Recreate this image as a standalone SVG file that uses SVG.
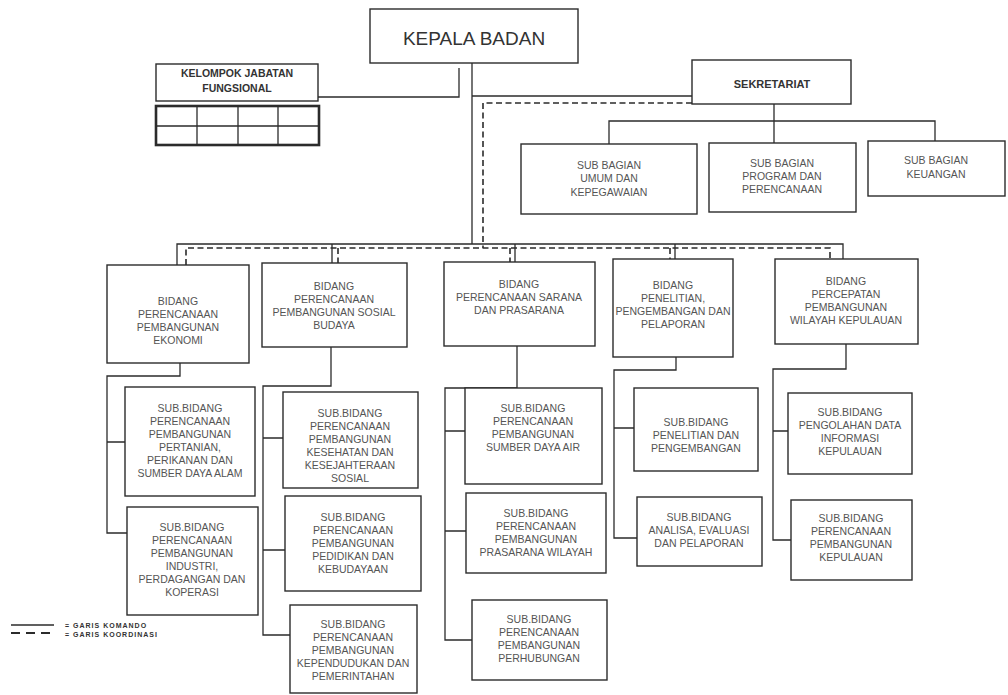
<svg xmlns="http://www.w3.org/2000/svg" width="1008" height="695" viewBox="0 0 1008 695">
<style>
.box{fill:#fff;stroke:#2b2b2b;stroke-width:1.4}
.ln{fill:none;stroke:#2b2b2b;stroke-width:1.3}
.dash{fill:none;stroke:#2b2b2b;stroke-width:1.6;stroke-dasharray:6 3.5}
.t{font-family:"Liberation Sans",Arial,sans-serif;font-size:10.5px;fill:#555;text-anchor:middle}
.tb{font-family:"Liberation Sans",Arial,sans-serif;font-size:10.5px;fill:#333;font-weight:bold;text-anchor:middle}
.big{font-family:"Liberation Sans",Arial,sans-serif;font-size:19px;fill:#333;text-anchor:middle}
.lg{font-family:"Liberation Sans",Arial,sans-serif;font-size:7px;fill:#333;font-weight:bold;letter-spacing:1px}
</style>
<rect width="1008" height="695" fill="#fff"/>
<g id="connectors">
<path class="ln" d="M472,63 V244 M177,265 V244 H843 V259 M332,244 V263 M515,244 V262 M675,244 V259"/>
<path class="ln" d="M318,97 H459 V68"/>
<path class="ln" d="M472,96 H692"/>
<path class="ln" d="M774,104 V121 M609,144 V121 H935 V141 M774,121 V143"/>
<path class="dash" d="M692,103 H483 V248"/>
<path class="dash" d="M186,265 V248 H830 V259 M338,248 V263 M510,248 V262 M670,248 V259"/>
<path class="ln" d="M180,363 V376 H107 V533 H127 M107,442 H125"/>
<path class="ln" d="M331,347 V386 H263 V635 H290 M263,438 H283 M263,550 H285"/>
<path class="ln" d="M517,346 V388 H445 V640 H472 M445,431 H465 M445,531 H466"/>
<path class="ln" d="M676,357 V370 H614 V538 H637 M614,428 H634"/>
<path class="ln" d="M846,344 V369 H773 V540 H791 M773,431 H788"/>
</g>
<g id="kepala"><rect class="box" x="370" y="9" width="208" height="54"/><text class="big" x="474" y="45">KEPALA BADAN</text></g>
<g id="kelompok"><rect class="box" x="156" y="64" width="162" height="37"/><text class="tb" x="237" y="77">KELOMPOK JABATAN</text><text class="tb" x="237" y="92">FUNGSIONAL</text></g>
<g id="tabel"><rect x="156" y="106" width="163" height="39" fill="#fff" stroke="#2b2b2b" stroke-width="2.6"/><path class="ln" d="M197,106 V145 M238,106 V145 M278,106 V145 M156,126 H319"/></g>
<g id="sekretariat"><rect class="box" x="692" y="60" width="159" height="44"/><text class="tb" x="772" y="88" style="font-size:11px">SEKRETARIAT</text></g>
<g id="subbag-umum"><rect class="box" x="521" y="144" width="176" height="70"/><text class="t" x="609" y="169">SUB BAGIAN</text><text class="t" x="609" y="182">UMUM DAN</text><text class="t" x="609" y="196">KEPEGAWAIAN</text></g>
<g id="subbag-program"><rect class="box" x="709" y="143" width="147" height="69"/><text class="t" x="782" y="167">SUB BAGIAN</text><text class="t" x="782" y="180">PROGRAM DAN</text><text class="t" x="782" y="193">PERENCANAAN</text></g>
<g id="subbag-keuangan"><rect class="box" x="868" y="141" width="137" height="55"/><text class="t" x="936" y="164">SUB BAGIAN</text><text class="t" x="936" y="178">KEUANGAN</text></g>
<g id="bid-ekonomi"><rect class="box" x="107" y="265" width="142" height="98"/><text class="t" x="178" y="305">BIDANG</text><text class="t" x="178" y="318">PERENCANAAN</text><text class="t" x="178" y="331">PEMBANGUNAN</text><text class="t" x="178" y="344">EKONOMI</text></g>
<g id="bid-sosbud"><rect class="box" x="262" y="263" width="145" height="84"/><text class="t" x="334" y="290">BIDANG</text><text class="t" x="334" y="303">PERENCANAAN</text><text class="t" x="334" y="316">PEMBANGUNAN SOSIAL</text><text class="t" x="334" y="329">BUDAYA</text></g>
<g id="bid-sarana"><rect class="box" x="444" y="262" width="151" height="84"/><text class="t" x="519" y="288">BIDANG</text><text class="t" x="519" y="301">PERENCANAAN SARANA</text><text class="t" x="519" y="314">DAN PRASARANA</text></g>
<g id="bid-penelitian"><rect class="box" x="613" y="259" width="120" height="98"/><text class="t" x="673" y="289">BIDANG</text><text class="t" x="673" y="302">PENELITIAN,</text><text class="t" x="673" y="315">PENGEMBANGAN DAN</text><text class="t" x="673" y="328">PELAPORAN</text></g>
<g id="bid-percepatan"><rect class="box" x="775" y="259" width="143" height="85"/><text class="t" x="846" y="285">BIDANG</text><text class="t" x="846" y="298">PERCEPATAN</text><text class="t" x="846" y="311">PEMBANGUNAN</text><text class="t" x="846" y="324">WILAYAH KEPULAUAN</text></g>
<g id="sub-pertanian"><rect class="box" x="125" y="387" width="130" height="109"/><text class="t" x="190" y="412">SUB.BIDANG</text><text class="t" x="190" y="425">PERENCANAAN</text><text class="t" x="190" y="438">PEMBANGUNAN</text><text class="t" x="190" y="451">PERTANIAN,</text><text class="t" x="190" y="464">PERIKANAN DAN</text><text class="t" x="190" y="477">SUMBER DAYA ALAM</text></g>
<g id="sub-industri"><rect class="box" x="127" y="507" width="131" height="108"/><text class="t" x="192" y="531">SUB.BIDANG</text><text class="t" x="192" y="544">PERENCANAAN</text><text class="t" x="192" y="557">PEMBANGUNAN</text><text class="t" x="192" y="570">INDUSTRI,</text><text class="t" x="192" y="583">PERDAGANGAN DAN</text><text class="t" x="192" y="596">KOPERASI</text></g>
<g id="sub-kesehatan"><rect class="box" x="283" y="392" width="135" height="96"/><text class="t" x="350" y="417">SUB.BIDANG</text><text class="t" x="350" y="430">PERENCANAAN</text><text class="t" x="350" y="443">PEMBANGUNAN</text><text class="t" x="350" y="456">KESEHATAN DAN</text><text class="t" x="350" y="469">KESEJAHTERAAN</text><text class="t" x="350" y="482">SOSIAL</text></g>
<g id="sub-pendidikan"><rect class="box" x="285" y="496" width="136" height="95"/><text class="t" x="353" y="521">SUB.BIDANG</text><text class="t" x="353" y="534">PERENCANAAN</text><text class="t" x="353" y="547">PEMBANGUNAN</text><text class="t" x="353" y="560">PEDIDIKAN DAN</text><text class="t" x="353" y="573">KEBUDAYAAN</text></g>
<g id="sub-kependudukan"><rect class="box" x="290" y="605" width="127" height="88"/><text class="t" x="353" y="628">SUB.BIDANG</text><text class="t" x="353" y="641">PERENCANAAN</text><text class="t" x="353" y="654">PEMBANGUNAN</text><text class="t" x="353" y="667">KEPENDUDUKAN DAN</text><text class="t" x="353" y="680">PEMERINTAHAN</text></g>
<g id="sub-air"><rect class="box" x="465" y="388" width="137" height="96"/><text class="t" x="533" y="412">SUB.BIDANG</text><text class="t" x="533" y="425">PERENCANAAN</text><text class="t" x="533" y="438">PEMBANGUNAN</text><text class="t" x="533" y="451">SUMBER DAYA AIR</text></g>
<g id="sub-prasarana"><rect class="box" x="466" y="493" width="140" height="80"/><text class="t" x="536" y="517">SUB.BIDANG</text><text class="t" x="536" y="530">PERENCANAAN</text><text class="t" x="536" y="543">PEMBANGUNAN</text><text class="t" x="536" y="556">PRASARANA WILAYAH</text></g>
<g id="sub-perhubungan"><rect class="box" x="472" y="600" width="135" height="80"/><text class="t" x="539" y="623">SUB.BIDANG</text><text class="t" x="539" y="636">PERENCANAAN</text><text class="t" x="539" y="649">PEMBANGUNAN</text><text class="t" x="539" y="662">PERHUBUNGAN</text></g>
<g id="sub-penelitian"><rect class="box" x="634" y="388" width="124" height="83"/><text class="t" x="696" y="426">SUB.BIDANG</text><text class="t" x="696" y="439">PENELITIAN DAN</text><text class="t" x="696" y="452">PENGEMBANGAN</text></g>
<g id="sub-analisa"><rect class="box" x="637" y="497" width="125" height="69"/><text class="t" x="699" y="521">SUB.BIDANG</text><text class="t" x="699" y="534">ANALISA, EVALUASI</text><text class="t" x="699" y="547">DAN PELAPORAN</text></g>
<g id="sub-pengolahan"><rect class="box" x="788" y="393" width="124" height="81"/><text class="t" x="850" y="416">SUB.BIDANG</text><text class="t" x="850" y="429">PENGOLAHAN DATA</text><text class="t" x="850" y="442">INFORMASI</text><text class="t" x="850" y="455">KEPULAUAN</text></g>
<g id="sub-kepulauan"><rect class="box" x="791" y="500" width="121" height="80"/><text class="t" x="851" y="522">SUB.BIDANG</text><text class="t" x="851" y="535">PERENCANAAN</text><text class="t" x="851" y="548">PEMBANGUNAN</text><text class="t" x="851" y="561">KEPULAUAN</text></g>
<g id="legend">
<path class="ln" d="M11,625 H54"/>
<path fill="none" stroke="#2b2b2b" stroke-width="2" stroke-dasharray="9 6" d="M11,633 H54"/>
<text class="lg" x="65" y="628">= GARIS  KOMANDO</text>
<text class="lg" x="65" y="637">= GARIS  KOORDINASI</text>
</g>
</svg>
